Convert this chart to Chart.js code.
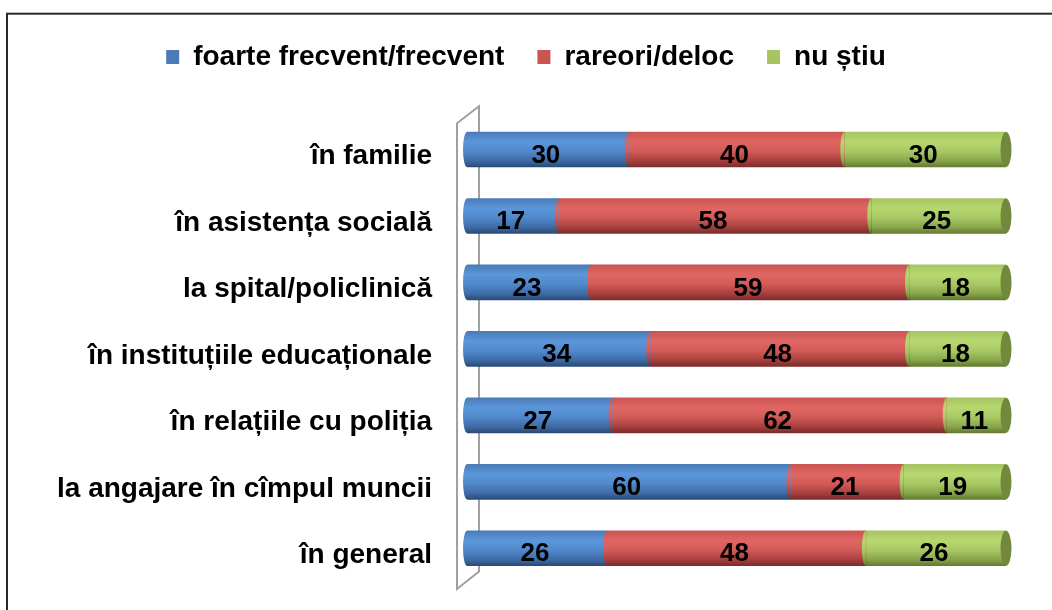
<!DOCTYPE html>
<html>
<head>
<meta charset="utf-8">
<script src="https://cdn.jsdelivr.net/npm/chart.js@4.4.1/dist/chart.umd.min.js"></script>
<style>
  html, body { margin: 0; padding: 0; background: #fff; overflow: hidden; }
  #wrap { position: relative; width: 1052px; height: 610px; }
</style>
</head>
<body>
<div id="wrap"><canvas id="c" width="1052" height="610"></canvas></div>
<script>
const categories = [
  'în familie',
  'în asistența socială',
  'la spital/policlinică',
  'în instituțiile educaționale',
  'în relațiile cu poliția',
  'la angajare în cîmpul muncii',
  'în general'
];
const seriesNames = ['foarte frecvent/frecvent', 'rareori/deloc', 'nu știu'];
const frecvent = [30, 17, 23, 34, 27, 60, 26];
const rareori  = [40, 58, 59, 48, 62, 21, 48];
const nuStiu   = [30, 25, 18, 18, 11, 19, 26];

const FONT = "'Liberation Sans', Arial, sans-serif";
const BAR_H = 35;

const palettes = [
  { base: '#4f81bd', stops: ['#4a7bb8', '#5b97da', '#5089cc', '#3f6ca6', '#2a4a76'] },
  { base: '#c0504d', stops: ['#c95552', '#e06663', '#d25b58', '#a8403d', '#7a2d2b'] },
  { base: '#9bbb59', stops: ['#a6c462', '#b7d86f', '#a9c865', '#88a64a', '#637a31'] }
];

function cylGradient(ctx, pal) {
  const chart = ctx.chart;
  if (!chart.chartArea || !chart.scales.y) return pal.base;
  const yc = chart.scales.y.getPixelForValue(ctx.dataIndex);
  const g = chart.ctx.createLinearGradient(0, yc - BAR_H / 2, 0, yc + BAR_H / 2);
  g.addColorStop(0, pal.stops[0]);
  g.addColorStop(0.28, pal.stops[1]);
  g.addColorStop(0.55, pal.stops[2]);
  g.addColorStop(0.82, pal.stops[3]);
  g.addColorStop(1, pal.stops[4]);
  return g;
}

const frame = {
  id: 'frame',
  beforeDraw(chart) {
    const c = chart.ctx;
    c.save();
    c.strokeStyle = '#2a2a2a';
    c.lineWidth = 2;
    c.strokeRect(7, 13.7, 1200, 800);
    c.restore();
  }
};

const wall = {
  id: 'wall',
  beforeDatasetsDraw(chart) {
    const a = chart.chartArea;
    const c = chart.ctx;
    c.save();
    c.strokeStyle = '#a0a0a0';
    c.lineWidth = 2;
    c.beginPath();
    c.moveTo(a.left - 10, a.top + 7);
    c.lineTo(a.left + 12, a.top - 10);
    c.lineTo(a.left + 12, a.bottom - 10);
    c.lineTo(a.left - 10, a.bottom + 7.5);
    c.closePath();
    c.stroke();
    c.restore();
  }
};

const cylinder = {
  id: 'cylinder',
  afterDatasetsDraw(chart) {
    const c = chart.ctx;
    const n = chart.data.datasets.length;
    c.save();
    for (let d = 0; d < n; d++) {
      const meta = chart.getDatasetMeta(d);
      meta.data.forEach((el) => {
        const h = el.height;
        c.beginPath();
        c.ellipse(el.base, el.y, 4, h / 2, 0, Math.PI / 2, Math.PI * 1.5);
        c.closePath();
        c.fillStyle = el.options.backgroundColor;
        c.fill();
        if (d === n - 1) {
          c.beginPath();
          c.ellipse(el.x, el.y, 5.5, h / 2, 0, 0, Math.PI * 2);
          c.fillStyle = '#72893d';
          c.fill();
        }
      });
    }
    // value labels
    c.fillStyle = '#000';
    c.font = 'bold 26px ' + FONT;
    c.textAlign = 'center';
    c.textBaseline = 'middle';
    for (let d = 0; d < n; d++) {
      const meta = chart.getDatasetMeta(d);
      const vals = chart.data.datasets[d].data;
      meta.data.forEach((el, i) => {
        c.fillText(String(vals[i]), (el.base + el.x) / 2 - 2, el.y + 6);
      });
    }
    c.restore();
  }
};

const datasets = [frecvent, rareori, nuStiu].map((vals, i) => ({
  label: seriesNames[i],
  data: vals,
  backgroundColor: (ctx) => cylGradient(ctx, palettes[i]),
  borderWidth: 0,
  barThickness: BAR_H
}));

new Chart(document.getElementById('c'), {
  type: 'bar',
  data: { labels: categories, datasets },
  options: {
    indexAxis: 'y',
    responsive: false,
    animation: false,
    layout: { padding: { top: 10, right: 46, bottom: 28.5, left: 46 } },
    scales: {
      x: {
        stacked: true, min: 0, max: 100, position: 'top',
        grid: { display: false, drawTicks: false },
        border: { display: false },
        ticks: { display: false },
        afterFit: (s) => { s.height = 35.3; s.paddingLeft = 0; s.paddingRight = 0; }
      },
      y: {
        stacked: true,
        grid: { display: false, drawTicks: false },
        border: { display: false },
        ticks: {
          color: '#000',
          padding: 35,
          labelOffset: 7,
          font: { family: FONT, size: 28, weight: 'bold' }
        },
        afterFit: (s) => { s.width = 421; s.paddingTop = 0; s.paddingBottom = 0; }
      }
    },
    plugins: {
      legend: {
        position: 'top',
        labels: {
          color: '#000',
          boxWidth: 13,
          boxHeight: 14,
          padding: 33,
          font: { family: FONT, size: 28, weight: 'bold' }
        }
      },
      tooltip: { enabled: false }
    }
  },
  plugins: [frame, wall, cylinder]
});
</script>
</body>
</html>
